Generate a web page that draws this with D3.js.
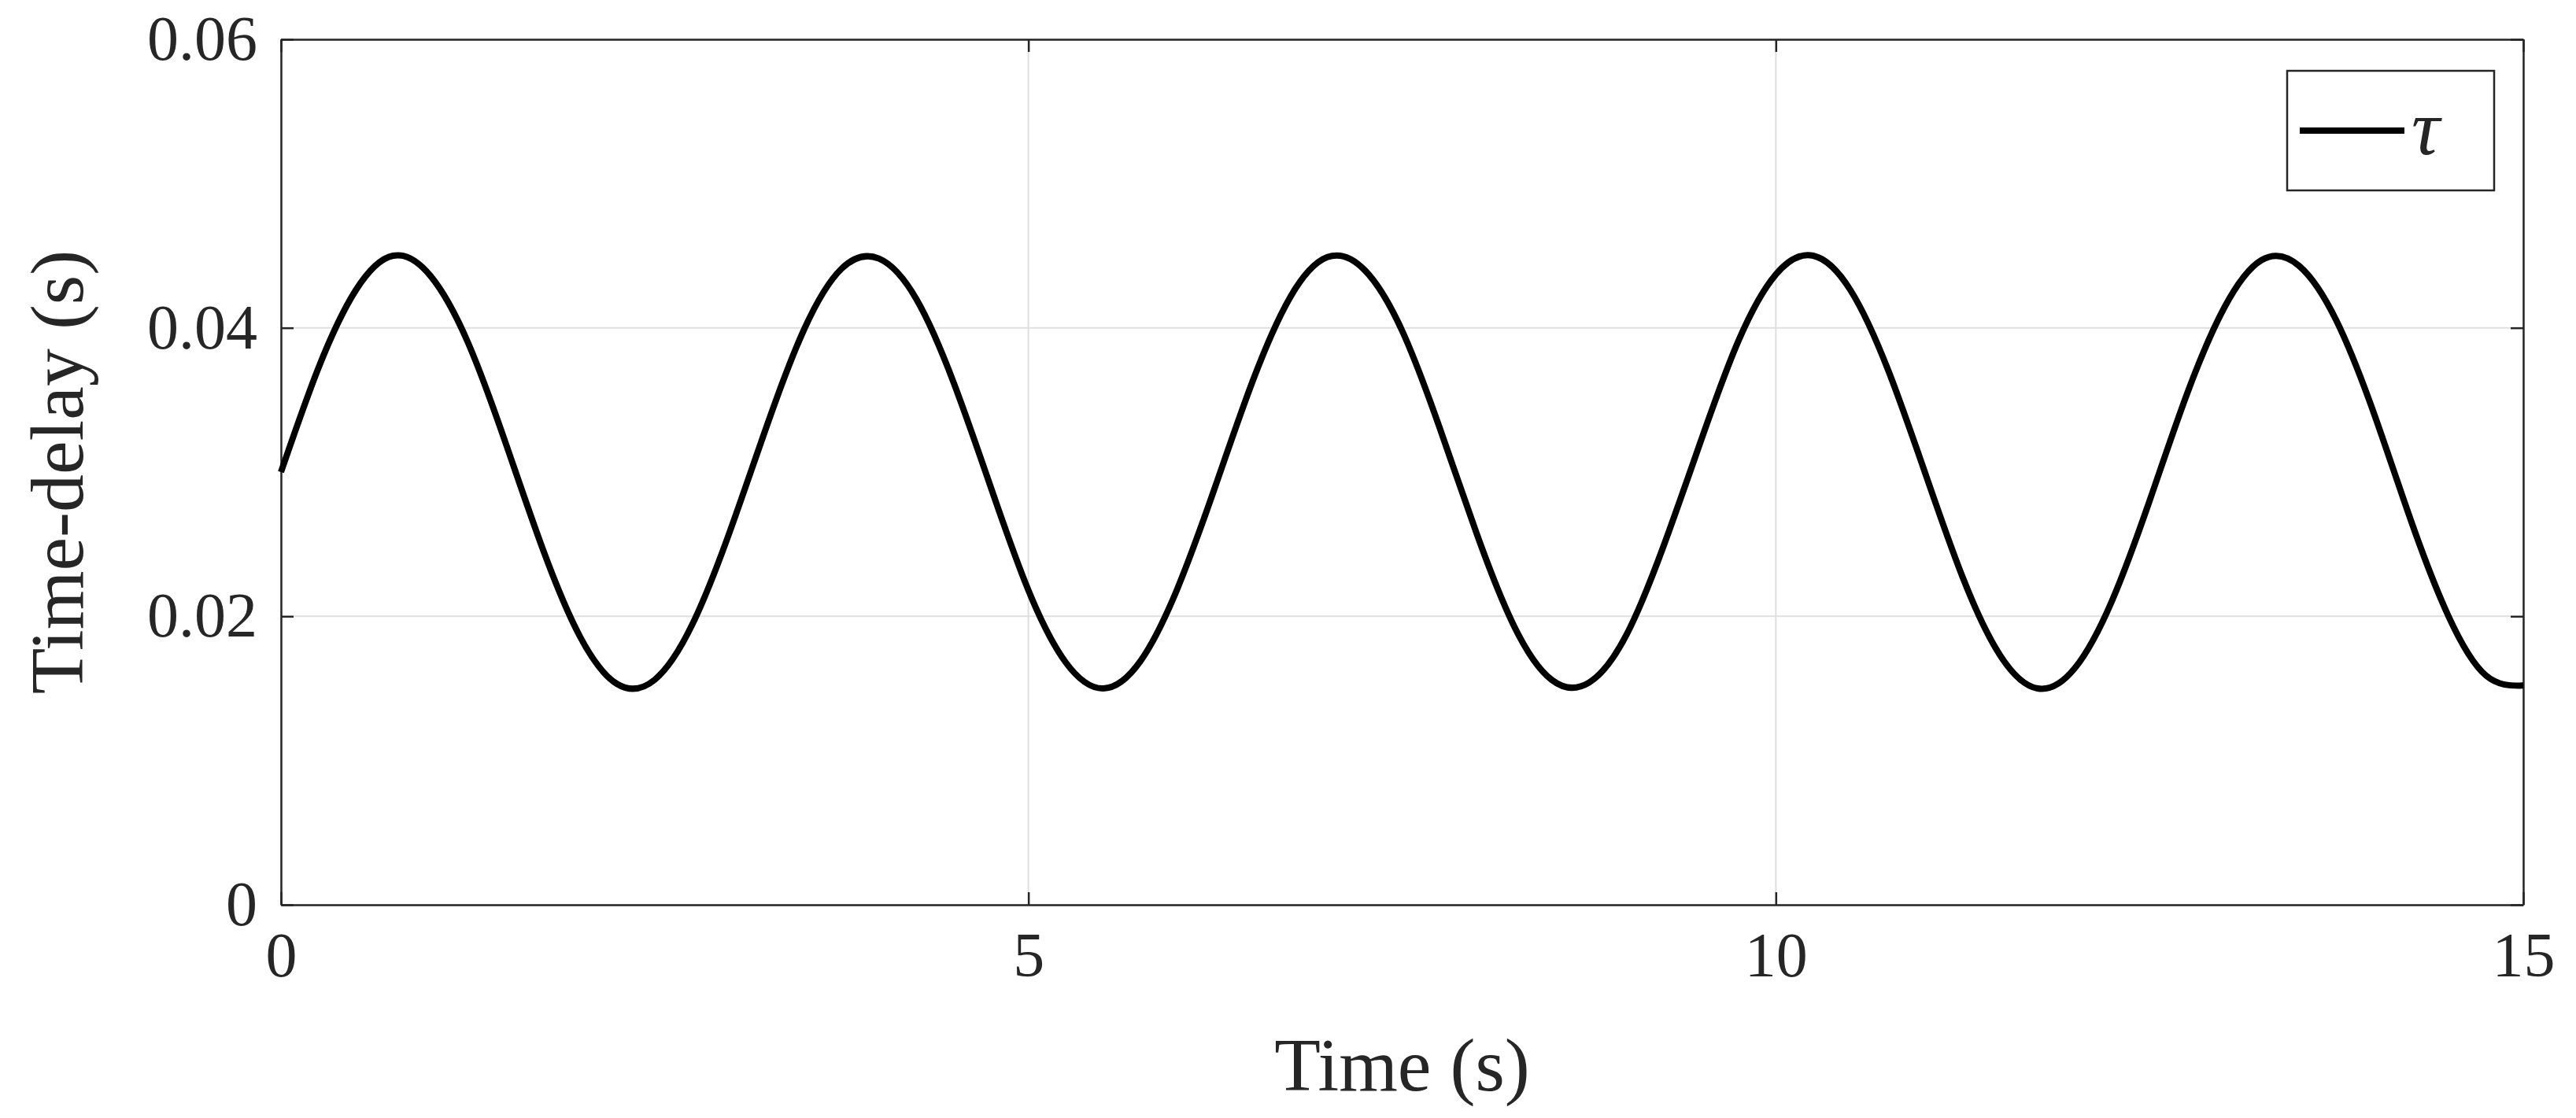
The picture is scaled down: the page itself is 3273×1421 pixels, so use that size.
<!DOCTYPE html>
<html><head><meta charset="utf-8">
<script src="https://cdn.jsdelivr.net/npm/d3@7"></script>
<style>body{margin:0;background:#fff}svg{display:block}text{font-family:"Liberation Serif","DejaVu Serif",serif;fill:#262626}</style>
</head><body>
<script>
// time samples (s), every 0.25 s
var times = d3.range(61).map(function (i) { return i * 0.25; });
// time-delay (s)
var delays = [0.0300,0.0372,0.0426,0.0450,0.0436,0.0390,0.0321,0.0247,0.0186,0.0153,
  0.0156,0.0194,0.0258,0.0332,0.0399,0.0441,0.0448,0.0420,0.0362,0.0289,
  0.0218,0.0168,0.0150,0.0169,0.0220,0.0290,0.0363,0.0421,0.0449,0.0440,
  0.0398,0.0331,0.0257,0.0193,0.0156,0.0154,0.0187,0.0249,0.0322,0.0391,
  0.0437,0.0450,0.0426,0.0371,0.0299,0.0227,0.0173,0.0150,0.0164,0.0211,
  0.0280,0.0354,0.0414,0.0447,0.0443,0.0405,0.0341,0.0266,0.0200,0.0159,0.0152];
var xTicks = [0, 5, 10, 15];
var yTicks = [0, 0.02, 0.04, 0.06];

var W = 3273, H = 1421;
var m = {l: 357, r: 67, t: 50, b: 271};
var svg = d3.select("body").append("svg").attr("width", W).attr("height", H);
var x = d3.scaleLinear().domain([0, 15]).range([m.l, W - m.r]);
var y = d3.scaleLinear().domain([0, 0.06]).range([H - m.b, m.t]);

//---------- grid
svg.selectAll(".gx").data(xTicks).enter().append("line")
    .attr("x1", x).attr("x2", x).attr("y1", y(0)).attr("y2", y(0.06))
    .attr("stroke", "#dfdfdf").attr("stroke-width", 2);
svg.selectAll(".gy").data(yTicks).enter().append("line")
    .attr("y1", y).attr("y2", y).attr("x1", x(0)).attr("x2", x(15))
    .attr("stroke", "#dfdfdf").attr("stroke-width", 2);

//---------- axes
var fmt = function (d) { return d === 0 ? "0" : d3.format(".2f")(d); };
var gx = svg.append("g").attr("transform", "translate(0," + y(0) + ")")
    .call(d3.axisBottom(x).tickValues(xTicks).tickSizeInner(-16).tickSizeOuter(0).tickPadding(34));
var gy = svg.append("g").attr("transform", "translate(" + x(0) + ",0)")
    .call(d3.axisLeft(y).tickValues(yTicks).tickFormat(fmt).tickSizeInner(-16).tickSizeOuter(0).tickPadding(30));
svg.append("g").attr("transform", "translate(0," + y(0.06) + ")")
    .call(d3.axisTop(x).tickValues(xTicks).tickSizeInner(-16).tickSizeOuter(0).tickFormat(""));
svg.append("g").attr("transform", "translate(" + x(15) + ",0)")
    .call(d3.axisRight(y).tickValues(yTicks).tickSizeInner(-16).tickSizeOuter(0).tickFormat(""));
svg.selectAll(".domain").attr("stroke", "#262626").attr("stroke-width", 2.5);
svg.selectAll(".tick line").attr("stroke", "#262626").attr("stroke-width", 2.5);
svg.selectAll(".tick text").style("font-size", "80px").style("font-family", "Liberation Serif").attr("fill", "#262626");
gx.selectAll(".tick text").attr("dy", "0.71em");

//---------- line
var line = d3.line().x(function (d, i) { return x(times[i]); }).y(function (d) { return y(d); })
    .curve(d3.curveNatural);
svg.append("path").datum(delays).attr("d", line)
    .attr("fill", "none").attr("stroke", "#000").attr("stroke-width", 8);

//---------- labels
svg.append("text").attr("x", (x(0) + x(15)) / 2).attr("y", H - 35)
    .attr("text-anchor", "middle").style("font-size", "96px").text("Time (s)");
svg.append("text").attr("transform", "translate(105," + (y(0) + y(0.06)) / 2 + ") rotate(-90)")
    .attr("text-anchor", "middle").style("font-size", "96px").text("Time-delay (s)");

//---------- legend
svg.append("rect").attr("x", 2906).attr("y", 90).attr("width", 263).attr("height", 152)
    .attr("fill", "#fff").attr("stroke", "#262626").attr("stroke-width", 2.5);
svg.append("line").attr("x1", 2922).attr("x2", 3055).attr("y1", 166).attr("y2", 166)
    .attr("stroke", "#000").attr("stroke-width", 8);
svg.append("text").attr("x", 3064).attr("y", 196).style("font-size", "100px")
    .style("font-style", "italic").text("τ");
</script>
</body></html>
